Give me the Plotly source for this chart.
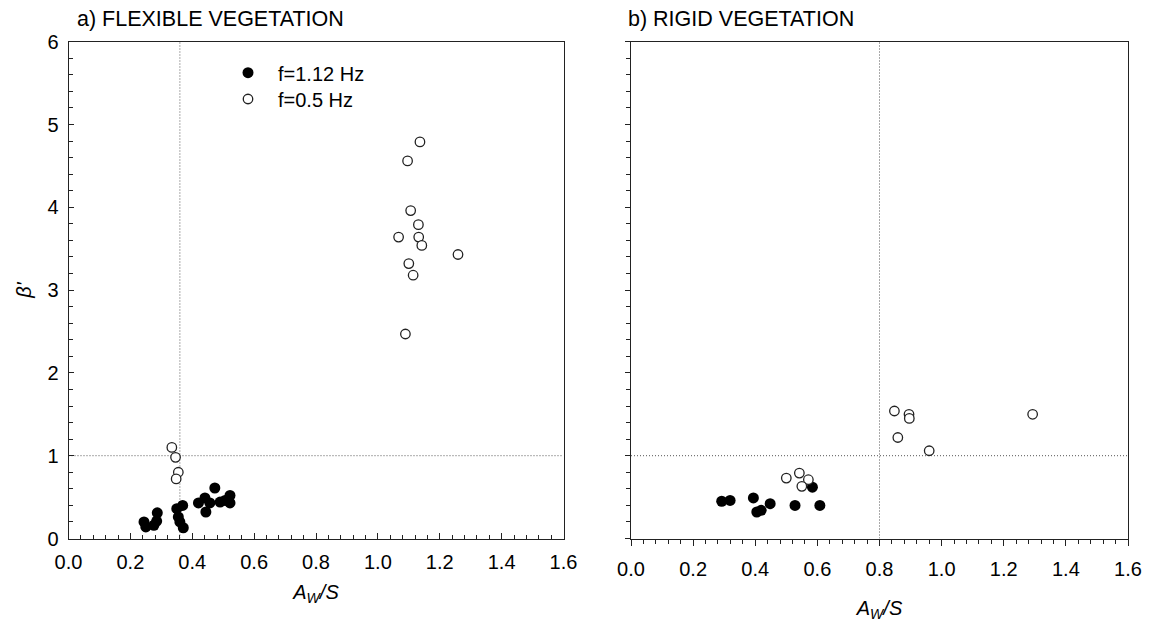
import plotly.graph_objects as go

# ---------------- data ----------------
# a) flexible vegetation
flex_f112_x = [0.244, 0.250, 0.287, 0.276, 0.285, 0.369, 0.350, 0.355, 0.360, 0.371,
               0.473, 0.420, 0.441, 0.457, 0.444, 0.522, 0.506, 0.490, 0.522]
flex_f112_y = [0.20, 0.14, 0.31, 0.16, 0.21, 0.40, 0.36, 0.26, 0.20, 0.13,
               0.61, 0.43, 0.49, 0.43, 0.32, 0.52, 0.46, 0.44, 0.43]
flex_f05_x = [1.136, 1.096, 1.106, 1.131, 1.067, 1.132, 1.142, 1.259, 1.100, 1.114, 1.089,
              0.334, 0.346, 0.355, 0.348]
flex_f05_y = [4.79, 4.56, 3.96, 3.79, 3.64, 3.64, 3.54, 3.43, 3.32, 3.18, 2.47,
              1.10, 0.98, 0.80, 0.72]

# b) rigid vegetation
rigid_f112_x = [0.292, 0.319, 0.394, 0.405, 0.419, 0.448, 0.528, 0.584, 0.608]
rigid_f112_y = [0.45, 0.46, 0.49, 0.32, 0.34, 0.42, 0.40, 0.62, 0.40]
rigid_f05_x = [0.500, 0.542, 0.571, 0.550, 0.848, 0.895, 0.896, 0.859, 0.960, 1.293]
rigid_f05_y = [0.73, 0.79, 0.71, 0.63, 1.54, 1.50, 1.45, 1.22, 1.06, 1.50]

# reference lines
flex_threshold_x = 0.36
rigid_threshold_x = 0.8
beta_threshold = 1.0

x_range = [0, 1.6]
y_range = [0, 6]
panel_titles = ["a) FLEXIBLE VEGETATION", "b) RIGID VEGETATION"]
legend_names = ["f=1.12 Hz", "f=0.5 Hz"]

# ---------------- figure ----------------
W, H = 1157, 622
FONT = "Liberation Sans, Arial, sans-serif"

fig = go.Figure()

filled = dict(symbol="circle", size=11, color="black", line=dict(width=0))
opened = dict(symbol="circle", size=9.5, color="white", line=dict(width=1.3, color="#222"))

fig.add_trace(go.Scatter(x=flex_f112_x, y=flex_f112_y, mode="markers", marker=filled,
                         name=legend_names[0], xaxis="x", yaxis="y", legend="legend"))
fig.add_trace(go.Scatter(x=flex_f05_x, y=flex_f05_y, mode="markers", marker=opened,
                         name=legend_names[1], xaxis="x", yaxis="y", legend="legend2"))
fig.add_trace(go.Scatter(x=rigid_f112_x, y=rigid_f112_y, mode="markers", marker=filled,
                         showlegend=False, xaxis="x2", yaxis="y2"))
fig.add_trace(go.Scatter(x=rigid_f05_x, y=rigid_f05_y, mode="markers", marker=opened,
                         showlegend=False, xaxis="x2", yaxis="y2"))

dotline = dict(color="#555", width=1, dash="1px,2px")
for xr, yr, xv in [("x", "y", flex_threshold_x), ("x2", "y2", rigid_threshold_x)]:
    fig.add_shape(type="line", xref=xr, yref=yr, x0=xv, x1=xv, y0=y_range[0], y1=y_range[1],
                  line=dotline, layer="below")
    fig.add_shape(type="line", xref=xr, yref=yr, x0=x_range[0], x1=x_range[1],
                  y0=beta_threshold, y1=beta_threshold, line=dotline, layer="below")

x_dom_l = [68.5 / W, 563.5 / W]
x_dom_r = [631 / W, 1128 / W]
y_dom = [1 - 538.5 / H, 1 - 41.7 / H]

tickfont = dict(family=FONT, size=20, color="black")
titlefont = dict(family=FONT, size=20, color="black")
axcommon = dict(showgrid=False, zeroline=False, showline=True, mirror=True,
                linecolor="#222", linewidth=1, tickcolor="#222", tickwidth=1,
                tickfont=tickfont, automargin=False)


def xaxis(dom, anchor, ticks, lblstand, standoff):
    return dict(domain=dom, anchor=anchor, range=x_range, dtick=0.2, tick0=0,
                tickformat=".1f", ticks=ticks, ticklen=6, ticklabelstandoff=lblstand,
                minor=dict(dtick=0.04, tick0=0, ticks=ticks, ticklen=4, tickcolor="#222"),
                title=dict(text="<i>A<sub>W</sub>/S</i>", font=titlefont, standoff=standoff),
                **axcommon)


def yaxis(anchor, ticks, labels):
    return dict(domain=y_dom, anchor=anchor, range=y_range, dtick=1, tick0=0,
                ticks=ticks, ticklen=5, showticklabels=labels, ticklabelstandoff=5,
                minor=dict(dtick=0.2, tick0=0, ticks=ticks, ticklen=4, tickcolor="#222"),
                **axcommon)


ya = yaxis("x", "inside", True)
ya["title"] = dict(text="<i>β'</i>", font=titlefont, standoff=10)

legfont = dict(family=FONT, size=20, color="black")
fig.update_layout(
    width=W, height=H,
    margin=dict(l=0, r=0, t=0, b=0),
    paper_bgcolor="white", plot_bgcolor="white",
    font=dict(family=FONT, size=20, color="black"),
    xaxis=xaxis(x_dom_l, "y", "inside", 5, 13),
    yaxis=ya,
    xaxis2=xaxis(x_dom_r, "y2", "outside", 6, 22),
    yaxis2=yaxis("x2", "outside", False),
    showlegend=True,
    legend=dict(x=218 / W, y=1 - 72.7 / H, xanchor="left", yanchor="middle",
                bgcolor="rgba(0,0,0,0)", itemwidth=50, font=legfont),
    legend2=dict(x=218 / W, y=1 - 99 / H, xanchor="left", yanchor="middle",
                 bgcolor="rgba(0,0,0,0)", itemwidth=50, font=legfont),
)

fig.add_annotation(text=panel_titles[0], xref="paper", yref="paper",
                   x=75 / W, y=1 - 19 / H, xanchor="left", yanchor="middle",
                   showarrow=False, font=dict(family=FONT, size=21.5, color="black"))
fig.add_annotation(text=panel_titles[1], xref="paper", yref="paper",
                   x=626 / W, y=1 - 19 / H, xanchor="left", yanchor="middle",
                   showarrow=False, font=dict(family=FONT, size=21.5, color="black"))

fig.write_html("out.html")
